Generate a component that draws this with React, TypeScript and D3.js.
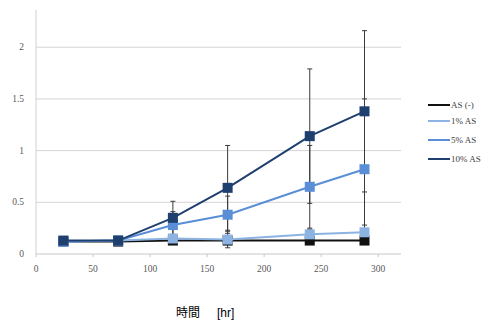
import React from 'react';
import * as d3 from 'd3';

const hours = [24, 72, 120, 168, 240, 288];
const asNone = [0.12, 0.12, 0.13, 0.13, 0.13, 0.13];
const asNoneErr = [0.01, 0.01, 0.02, 0.02, 0.01, 0.01];
const as1 = [0.12, 0.13, 0.15, 0.14, 0.19, 0.21];
const as1Err = [0.01, 0.01, 0.03, 0.08, 0.05, 0.07];
const as5 = [0.12, 0.13, 0.28, 0.38, 0.65, 0.82];
const as5Err = [0.01, 0.02, 0.13, 0.18, 0.4, 0.68];
const as10 = [0.13, 0.13, 0.35, 0.64, 1.14, 1.38];
const as10Err = [0.01, 0.02, 0.16, 0.41, 0.65, 0.78];
const xTicks = [0, 50, 100, 150, 200, 250, 300];
const yTicks = [0, 0.5, 1, 1.5, 2];

const series = [
  { name: 'AS (-)', values: asNone, err: asNoneErr, color: '#111111' },
  { name: '1% AS', values: as1, err: as1Err, color: '#8db3e2' },
  { name: '5% AS', values: as5, err: as5Err, color: '#5a8ed6' },
  { name: '10% AS', values: as10, err: as10Err, color: '#1f3f6e' },
];

const App = () => {
  const x = d3.scaleLinear().domain([0, 320]).range([36, 401]);
  const y = d3.scaleLinear().domain([0, 2.36]).range([254, 10]);
  const line = d3.line<number>()
    .x((d, i) => x(hours[i]))
    .y(d => y(d));

  return (
    <svg width="492" height="322" style={{ position: 'absolute', left: 0, top: 0, background: '#fff' }}>
      {yTicks.slice(1).map(t => (
        <line key={t} x1={x(0)} x2={x(320)} y1={y(t)} y2={y(t)} stroke="#d4d4d4" strokeWidth={1} />
      ))}
      <line x1={x(0)} x2={x(0)} y1={y(2.36)} y2={y(0)} stroke="#d0d0d0" />
      <line x1={x(0)} x2={x(320)} y1={y(0)} y2={y(0)} stroke="#c8c8c8" />
      {xTicks.map(t => (
        <g key={t}>
          <line x1={x(t)} x2={x(t)} y1={y(0)} y2={y(0) + 3} stroke="#c8c8c8" />
          <text x={x(t)} y={272} textAnchor="middle" fontFamily="Liberation Serif, serif" fontSize={9.5} fill="#595959">{t}</text>
        </g>
      ))}
      {yTicks.map(t => (
        <text key={t} x={24} y={y(t) + 3} textAnchor="end" fontFamily="Liberation Serif, serif" fontSize={9.5} fill="#595959">{t}</text>
      ))}
      {series.map(s => (
        <g key={s.name}>
          {s.values.map((v, i) => (
            <g key={i} stroke="#3a3a3a" strokeWidth={1}>
              <line x1={x(hours[i])} x2={x(hours[i])} y1={y(v - s.err[i])} y2={y(v + s.err[i])} />
              <line x1={x(hours[i]) - 2.5} x2={x(hours[i]) + 2.5} y1={y(v - s.err[i])} y2={y(v - s.err[i])} />
              <line x1={x(hours[i]) - 2.5} x2={x(hours[i]) + 2.5} y1={y(v + s.err[i])} y2={y(v + s.err[i])} />
            </g>
          ))}
        </g>
      ))}
      {series.map(s => (
        <g key={s.name}>
          <path d={line(s.values) || ''} fill="none" stroke={s.color} strokeWidth={2} />
          {s.values.map((v, i) => (
            <rect key={i} x={x(hours[i]) - 5} y={y(v) - 5} width={10} height={10} fill={s.color} />
          ))}
        </g>
      ))}
      {series.map((s, i) => {
        const ly = [105, 121, 140, 159][i];
        return (
          <g key={s.name}>
            <line x1={428} x2={450} y1={ly} y2={ly} stroke={s.color} strokeWidth={2} />
            <text x={451} y={ly + 3} fontFamily="Liberation Serif, serif" fontSize={9} fill="#404040">{s.name}</text>
          </g>
        );
      })}
      <text x={176} y={317} fontFamily="Noto Sans CJK JP, sans-serif" fontSize={12} fill="#000">時間</text>
      <text x={217} y={317} fontFamily="Liberation Sans, sans-serif" fontSize={12} fill="#000">[hr]</text>
    </svg>
  );
};

export default App;
